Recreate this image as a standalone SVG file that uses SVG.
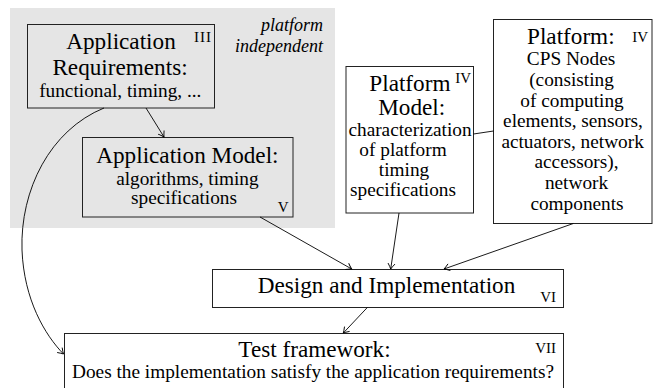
<svg xmlns="http://www.w3.org/2000/svg" width="654" height="388" viewBox="0 0 654 388">
<style>
text{font-family:"Liberation Serif","Times New Roman",serif;fill:#000}
.big{font-size:23.2px;text-anchor:middle}
.bigs{font-size:23.2px;text-anchor:start}
.sm{font-size:19.3px;text-anchor:middle}
.num{font-size:15px;text-anchor:end}
.it{font-size:18px;font-style:italic;text-anchor:end}
.box{fill:#fff;stroke:#222;stroke-width:1}
.gbox{fill:none;stroke:#222;stroke-width:1}
.c{fill:none;stroke:#000;stroke-width:0.9}
.a{marker-end:url(#ah)}
</style>
<defs>
<marker id="ah" markerWidth="8" markerHeight="10" refX="0" refY="0" viewBox="-7 -5 8 10" orient="auto" markerUnits="userSpaceOnUse">
<path d="M-5.5,-3.5 Q-2,-1 0,0 Q-2,1 -5.5,3.5" fill="none" stroke="#000" stroke-width="0.9"/>
</marker>
</defs>
<rect id="platform-independent-area" x="10" y="8" width="325" height="220" fill="#e5e5e5"/>
<g id="platform-independent-label">
<text class="it" x="323" y="30.7">platform</text>
<text class="it" x="323" y="51.7">independent</text>
</g>
<g id="app-requirements">
<rect class="gbox" x="27.5" y="24.5" width="187" height="83.5"/>
<text class="big" x="121" y="49">Application</text>
<text class="big" x="120" y="75">Requirements:</text>
<text class="sm" x="120.3" y="97">functional, timing, ...</text>
<text class="num" x="212" y="42" letter-spacing="1">III</text>
</g>
<g id="app-model">
<rect class="gbox" x="82.5" y="137.5" width="210.5" height="79.5"/>
<text class="big" x="187.4" y="162.7">Application Model:</text>
<text class="sm" x="187.4" y="184.5">algorithms, timing</text>
<text class="sm" x="184" y="203.5">specifications</text>
<text class="num" x="288.5" y="212">V</text>
</g>
<g id="platform-model">
<rect class="box" x="346" y="66.5" width="127.5" height="146.5"/>
<text class="bigs" x="369.3" y="90.5">Platform</text>
<text class="num" x="471" y="83">IV</text>
<text class="big" x="411.7" y="115.3">Model:</text>
<text class="sm" x="410" y="135.8">characterization</text>
<text class="sm" x="403" y="155.8">of platform</text>
<text class="sm" x="404" y="175.9">timing</text>
<text class="sm" x="403" y="196">specifications</text>
</g>
<g id="platform">
<rect class="box" x="493.5" y="19.5" width="158.5" height="204"/>
<text class="bigs" x="527" y="44">Platform:</text>
<text class="num" x="648" y="42">IV</text>
<text class="sm" x="571" y="65">CPS Nodes</text>
<text class="sm" x="571.5" y="86">(consisting</text>
<text class="sm" x="572" y="106.5">of computing</text>
<text class="sm" x="573" y="127">elements, sensors,</text>
<text class="sm" x="572.6" y="147.5">actuators, network</text>
<text class="sm" x="576.5" y="168">accessors),</text>
<text class="sm" x="576.5" y="189">network</text>
<text class="sm" x="577" y="210">components</text>
</g>
<g id="design">
<rect class="box" x="212.5" y="269.5" width="351" height="38"/>
<text class="big" x="386.5" y="293">Design and Implementation</text>
<text class="num" x="556" y="301.7">VI</text>
</g>
<g id="test">
<rect class="box" x="64.5" y="333.5" width="499" height="60"/>
<text class="big" x="314.5" y="356.7">Test framework:</text>
<text class="num" x="556" y="353.3">VII</text>
<text class="sm" x="313" y="378">Does the implementation satisfy the application requirements?</text>
</g>
<g id="connectors">
<path class="c a" d="M146,108 L164,137"/>
<path class="c a" d="M260,217 L351.7,269"/>
<path class="c a" d="M399,213 L390.7,269"/>
<path class="c a" d="M573.3,223.5 L444,269"/>
<path class="c a" d="M367.3,307.5 L343.3,333"/>
<path class="c" d="M473.5,134 L493.5,131"/>
<path class="c a" d="M104,108 C50,130 20,190 22,250 C24,300 45,335 63.5,354"/>
</g>
</svg>
